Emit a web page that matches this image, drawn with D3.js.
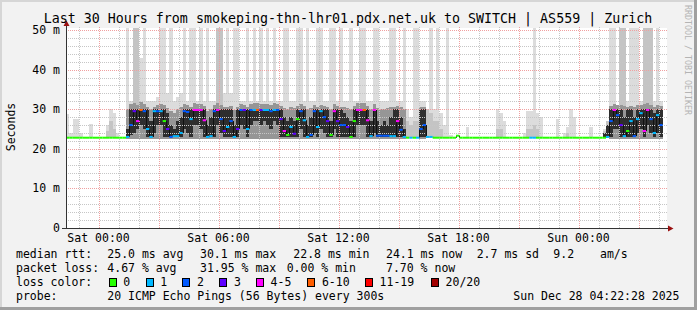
<!DOCTYPE html>
<html><head><meta charset="utf-8">
<script src="https://cdn.jsdelivr.net/npm/d3@7"></script>
<style>
html,body{margin:0;padding:0;background:#f2f2f2;}
svg{display:block;}
text{font-family:"DejaVu Sans Mono",monospace;}
</style></head><body>
<svg id="c" width="697" height="310"></svg>
<script>
// ---------------- DATA ----------------
const title = "Last 30 Hours from smokeping-thn-lhr01.pdx.net.uk to SWITCH | AS559 | Zurich";
const startTime = Date.UTC(2025, 11, 26, 22, 22, 28);
const endTime = Date.UTC(2025, 11, 28, 4, 22, 28);
const stepMinutes = 10;

const yTickValues = [0, 10, 20, 30, 40, 50];
const yTickLabels = ["0", "10 m", "20 m", "30 m", "40 m", "50 m"];
const xTickTimes = [Date.UTC(2025,11,27,0), Date.UTC(2025,11,27,6), Date.UTC(2025,11,27,12), Date.UTC(2025,11,27,18), Date.UTC(2025,11,28,0)];
const xTickLabels = ["Sat 00:00", "Sat 06:00", "Sat 12:00", "Sat 18:00", "Sun 00:00"];

// median rtt (ms) per 10-minute step
const median = [
22.8,22.8,22.8,22.8,22.8,22.8,22.8,22.8,22.8,22.8,
22.8,22.8,22.8,22.8,22.8,22.8,22.8,22.8,23,26,
29.5,27,29.8,29.5,25,23,29.5,29.5,29.5,27,
25,23,23.2,23.2,24,29.5,29.3,27.5,29.8,29.8,
29.8,27.2,23,23.2,29.5,29.8,27.5,24.5,25.5,27,
23,25,29.8,29.8,25,29.8,29.8,29.8,29.8,29.8,
29.8,29.5,29.8,29.8,27.5,24.5,23.5,25.5,23.8,27.5,
29.5,27.2,23,23.5,29.5,25.5,29.5,28,27,23.5,
29.5,27,26,26,25.5,23,27,29.8,29.8,29.8,
27.2,23.2,29.8,23.3,23.3,23.3,23.3,23.2,23.2,27,
24.8,23,22.8,22.8,22.8,22.8,25,26,23,23,
22.8,22.8,22.8,22.8,22.8,22.8,22.8,23.3,22.8,22.8,
22.8,22.8,22.8,22.8,22.8,22.8,22.8,22.8,22.8,22.8,
22.8,22.8,22.8,22.8,22.8,22.8,22.8,22.8,22.8,22.8,
22.8,22.8,22.8,22.8,22.8,22.8,22.8,22.8,22.8,22.8,
22.8,22.8,22.8,22.8,22.8,22.8,22.8,22.8,22.8,22.8,
22.8,22.8,23,27,29.8,28.5,26,23.2,24.5,27,
23.2,27.5,29,24.5,29.8,27.5,24,28.5,26,null];

// lost pings (of 20) per step
const loss = [
0,0,0,0,0,0,0,0,0,0,
0,0,0,0,0,0,0,0,1,2,
3,4,6,2,1,1,1,2,1,0,
3,2,1,1,1,2,2,1,4,4,
4,4,1,1,2,4,2,3,1,2,
1,3,2,3,1,2,1,7,3,1,
1,2,1,2,3,4,0,1,3,0,
2,1,1,2,2,1,1,2,3,0,
4,3,2,2,3,0,0,4,4,7,
4,1,5,2,2,2,2,1,1,4,
2,1,0,1,0,1,2,2,1,1,
0,0,0,0,0,0,0,0,0,0,
0,0,0,0,0,0,0,0,0,0,
0,0,0,0,0,0,0,0,0,1,
1,0,0,0,0,0,0,0,0,0,
0,0,0,0,0,0,0,0,0,0,
0,0,1,2,4,2,3,1,0,1,
2,1,1,4,4,2,1,1,2,0];

// highest ping (ms) per step: light smoke
const smokeMax = [
28.8,24,27.5,27.5,24,0,0,26.3,0,0,
0,0,26,30,29,24,0,0,60,32,
60,60,43,60,32,32,32,33,60,60,
34,60,32,33,34,60,32,60,60,32,
60,32,60,32,32,60,60,34,60,34,
60,60,32,32,60,32,60,32,60,32,
60,32,60,32,32,60,60,32,32,60,
60,32,60,32,32,60,60,32,32,60,
60,32,60,32,32,60,32,32,60,60,
32,32,60,60,32,32,32,60,60,32,
32,60,30,28,60,60,32,32,30,60,
30,60,29,26,60,23.5,0,0,0,0,
25.4,0,0,0,0,0,0,0,0,30,
29,27,0,0,0,0,0,24,29.5,29.5,
60,29,28,0,0,0,0,27.5,0,24,
25.5,30,28,0,0,0,0,25.5,0,0,
0,25,27,60,60,30,32,32,32,60,
60,60,32,32,32,32,32,60,32,0];

// outer-middle pings (ms): medium smoke
const smokeOuter = [
0,0,0,0,0,0,0,0,0,0,
0,0,24.5,27,25,0,0,0,0,0,
60,60,0,0,0,0,0,0,0,0,
0,0,0,0,0,0,0,0,0,0,
0,0,0,0,0,60,60,0,0,0,
0,0,0,0,0,0,0,0,0,0,
0,0,0,0,0,0,0,0,0,0,
0,0,0,0,0,0,0,0,0,0,
0,0,0,0,0,0,0,0,0,0,
0,0,0,0,0,0,0,0,0,0,
0,0,27,26,27,27,0,0,30,29,
27,27,25,0,0,0,0,0,0,0,
0,0,0,0,0,0,0,0,0,25,
25,0,0,0,0,0,0,0,25,25,
26,25,0,0,0,0,0,0,0,0,
24,0,0,0,0,0,0,0,0,0,
0,24.5,27,0,0,0,60,60,0,0,
0,0,0,60,60,60,0,0,0,0];

// inner pings upper bound (ms): gray smoke body
const smokeBody = [
0,0,0,0,0,0,0,0,0,0,
0,0,0,0,0,0,0,0,30,31.2,
31.5,31,31.8,31.2,30.5,30,30.6,31,31.4,31,
30.2,29.5,29,30,30.5,31.2,31,30.6,31.5,31.3,
31.4,30.8,29.5,30,31,31.6,31,30.5,30.5,30.8,
29.8,30.5,31.2,31,30.5,31.2,31.5,31.6,31.3,31.2,
31.4,31,31.5,31.3,30.8,30.4,30,30.5,30.2,30.8,
31.2,30.8,30,30.2,31,30.5,31,30.8,30.6,30,
31.2,30.8,30.5,30.5,30.3,30,30.8,31.5,31.5,31.6,
30.8,30,31.2,30.2,30,30,30.2,30.5,30.6,30.8,
30.5,30,0,0,0,0,30.5,30.5,0,0,
0,0,0,0,0,0,0,0,0,0,
0,0,0,0,0,0,0,0,0,0,
0,0,0,0,0,0,0,0,0,0,
0,0,0,0,0,0,0,0,0,0,
0,0,0,0,0,0,0,0,0,0,
0,0,0,30.8,31.4,31,31,30.8,30.6,30.8,
30.5,31,31,31.2,31.5,31,30.5,31,30.8,0];

// central pings low / high (ms): dark smoke core
const coreLow = [
0,0,0,0,0,0,0,0,0,0,
0,0,0,0,0,0,0,0,23,23.5,
24,25,26,25,23,23,24,26,26,23,
23,23,23,23,23,25,24,23,26,26,
25,23,23,23,23,26,24,23,23,23,
23,23,26,25,23,26,27,27,26,27,
26,25,27,26,23,23,23,23,23,23,
25,23,23,23,24,23,25,24,23,23,
25,23,23,23,23,23,23,26,26,26,
23,23,24,23,23,23,23,23,23,23,
23,23,0,0,0,0,23,23,0,0,
0,0,0,0,0,0,0,0,0,0,
0,0,0,0,0,0,0,0,0,0,
0,0,0,0,0,0,0,0,0,0,
0,0,0,0,0,0,0,0,0,0,
0,0,0,0,0,0,0,0,0,0,
0,23,23,23,25,25,23,23,23,23,
23,24,25,23,26,24,23,24,23,0];
const coreHigh = [
0,0,0,0,0,0,0,0,0,0,
0,0,0,0,0,0,0,0,25,30,
30,30,30,30,30,27,30,30,30,30,
29,26,25,27,28,30,30,30,30,30,
30,30,26,28,30,30,30,30,30,30,
26,30,30,30,30,30,30,30,30,30,
30,30,30,30,30,28,27,28,27,30,
30,30,26,28,30,30,30,30,30,27,
30,30,30,29,28,27,30,30,30,30,
30,27,30,27,26,27,26,28,30,30,
28,25,0,0,0,0,30,30,0,0,
0,0,0,0,0,0,0,0,0,0,
0,0,0,0,0,0,0,0,0,0,
0,0,0,0,0,0,0,0,0,0,
0,0,0,0,0,0,0,0,0,0,
0,0,0,0,0,0,0,0,0,0,
0,24,26,30,30,30,30,28,30,30,
28,30,30,30,30,30,29,30,30,0];

const lossLabels = ["0", "1", "2", "3", "4-5", "6-10", "11-19", "20/20"];
const lossUpper = [0, 1, 2, 3, 5, 10, 19, 20];
const lossColors = ["#26ff00", "#00b8ff", "#0059ff", "#5e00ff", "#ff00ff", "#ff5e00", "#ff0000", "#a10000"];

const rttStats = ["25.0 ms avg", "30.1 ms max", "22.8 ms min", "24.1 ms now", "2.7 ms sd", "9.2", "am/s"];
const lossStats = ["4.67 % avg", "31.95 % max", "0.00 % min", "7.70 % now"];
const probeText = "20 ICMP Echo Pings (56 Bytes) every 300s";
const stampText = "Sun Dec 28 04:22:28 2025";

// ---------------- DRAW ----------------
const W = 697, H = 310;
const svg = d3.select("#c");
const X0 = 66, X1 = 666, Y0 = 228, Y50 = 30, YTOP = 28;

svg.append("rect").attr("width", W).attr("height", H).attr("fill", "#f2f2f2");
svg.append("rect").attr("x", 0).attr("y", 0).attr("width", W).attr("height", 2).attr("fill", "#d6d6d6");
svg.append("rect").attr("x", 0).attr("y", 0).attr("width", 2).attr("height", H).attr("fill", "#d6d6d6");
svg.append("rect").attr("x", 0).attr("y", H - 3).attr("width", W).attr("height", 3).attr("fill", "#a0a0a0");
svg.append("rect").attr("x", W - 3).attr("y", 0).attr("width", 3).attr("height", H).attr("fill", "#a0a0a0");

const x = d3.scaleUtc().domain([startTime, endTime]).range([X0, X1]);
const y = d3.scaleLinear().domain([0, 50]).range([Y0, Y50]);

svg.append("defs").append("clipPath").attr("id", "clip")
  .append("rect").attr("x", X0).attr("y", YTOP).attr("width", X1 - X0 + 1).attr("height", Y0 - YTOP);

svg.append("rect").attr("x", X0).attr("y", YTOP).attr("width", X1 - X0 + 1).attr("height", Y0 - YTOP).attr("fill", "#ffffff");

const plot = svg.append("g").attr("clip-path", "url(#clip)");
const stepMs = stepMinutes * 60000;
const t = i => startTime + i * stepMs;
const idx = d3.range(median.length);

function band(lowArr, highArr, color) {
  plot.append("g").attr("shape-rendering", "crispEdges").selectAll("rect")
    .data(idx.filter(i => highArr[i] > 0))
    .join("rect")
    .attr("x", i => x(t(i)))
    .attr("width", i => x(t(i + 1)) - x(t(i)))
    .attr("y", i => y(highArr[i]))
    .attr("height", i => y(lowArr(i)) - y(highArr[i]))
    .attr("fill", color);
}
band(() => 22.8, smokeMax, "#dcdcdc");
band(() => 22.8, smokeOuter, "#c4c4c4");
band(() => 22.6, smokeBody, "#969696");
band(i => coreLow[i], coreHigh, "#2e2e2e");

// grid
const grid = svg.append("g").attr("shape-rendering", "crispEdges");
d3.range(2, 51, 2).filter(v => v % 10 !== 0).forEach(v => {
  grid.append("line").attr("x1", X0).attr("x2", X1 + 1).attr("y1", Math.round(y(v)) + 0.5).attr("y2", Math.round(y(v)) + 0.5)
    .attr("stroke", "#c6c6c6").attr("stroke-dasharray", "1,1");
});
const hours = d3.utcHour.range(new Date(startTime), new Date(endTime));
hours.forEach(h => {
  const major = h.getUTCHours() % 3 === 0;
  if (major) return;
  grid.append("line").attr("x1", Math.round(x(h)) + 0.5).attr("x2", Math.round(x(h)) + 0.5).attr("y1", YTOP - 1).attr("y2", Y0)
    .attr("stroke", "#c6c6c6").attr("stroke-dasharray", "1,1");
});
hours.filter(h => h.getUTCHours() % 3 === 0).forEach(h => {
  grid.append("line").attr("x1", Math.round(x(h)) + 0.5).attr("x2", Math.round(x(h)) + 0.5).attr("y1", YTOP - 1).attr("y2", Y0)
    .attr("stroke", "#f0a0a0").attr("stroke-dasharray", "1,1");
});
yTickValues.filter(v => v > 0).forEach(v => {
  grid.append("line").attr("x1", X0).attr("x2", X1 + 1).attr("y1", Math.round(y(v)) + 0.5).attr("y2", Math.round(y(v)) + 0.5)
    .attr("stroke", "#f0a0a0").attr("stroke-dasharray", "1,1");
});

// median: black step connectors then coloured segments by loss
const lossIndex = l => lossUpper.findIndex(u => l <= u);
const med = svg.append("g").attr("clip-path", "url(#clip)");
idx.forEach(i => {
  if (median[i] == null || i + 1 >= median.length || median[i + 1] == null) return;
  if (median[i] !== median[i + 1]) {
    const xx = Math.round(x(t(i + 1))) + 0.5;
    med.append("line").attr("x1", xx).attr("x2", xx).attr("y1", y(median[i])).attr("y2", y(median[i + 1]))
      .attr("stroke", "#111").attr("stroke-width", 1);
  }
});
idx.filter(i => median[i] != null).forEach(i => {
  med.append("line").attr("x1", x(t(i))).attr("x2", x(t(i + 1)))
    .attr("y1", y(median[i])).attr("y2", y(median[i]))
    .attr("stroke", lossColors[lossIndex(loss[i])]).attr("stroke-width", 2);
});

// axes
const ax = svg.append("g").attr("shape-rendering", "crispEdges");
ax.append("line").attr("x1", X0 + 0.5).attr("x2", X0 + 0.5).attr("y1", Y0 + 1).attr("y2", 24).attr("stroke", "#333");
ax.append("line").attr("x1", 62).attr("x2", X1 + 3).attr("y1", Y0 + 0.5).attr("y2", Y0 + 0.5).attr("stroke", "#333");
svg.append("path").attr("d", `M${X0 - 2.5},26 L${X0 + 3.5},26 L${X0 + 0.5},20.5 Z`).attr("fill", "#9a1010");
svg.append("path").attr("d", `M${X1 + 2},${Y0 - 2.5} L${X1 + 2},${Y0 + 3.5} L${X1 + 7.5},${Y0 + 0.5} Z`).attr("fill", "#9a1010");

// y labels
svg.append("g").selectAll("text").data(yTickValues).join("text")
  .attr("x", 60).attr("y", v => y(v) + 4).attr("text-anchor", "end")
  .attr("font-size", "11.5px").attr("fill", "#000")
  .text((v, i) => yTickLabels[i]);
// x labels
svg.append("g").selectAll("text").data(xTickTimes).join("text")
  .attr("x", d => x(d)).attr("y", 242).attr("text-anchor", "middle")
  .attr("font-size", "11.5px").attr("fill", "#000")
  .text((d, i) => xTickLabels[i]);

// title
svg.append("text").attr("x", 348).attr("y", 23).attr("text-anchor", "middle")
  .attr("font-size", "13.3px").attr("fill", "#000").text(title);
// y axis title
svg.append("text").attr("transform", "translate(15,127) rotate(-90)").attr("text-anchor", "middle")
  .attr("font-size", "11.5px").attr("fill", "#000").text("Seconds");
// watermark
svg.append("text").attr("transform", "translate(685,5) rotate(90)").attr("text-anchor", "start")
  .attr("font-size", "8.3px").attr("fill", "#b4b4b4").text("RRDTOOL / TOBI OETIKER");

// legend
const lg = svg.append("g").attr("font-size", "11.5px").attr("fill", "#000");
const L1 = 258, L2 = 272, L3 = 286, L4 = 300;
lg.append("text").attr("x", 16).attr("y", L1).text("median rtt:");
const rttX = [107.3, 200, 293.3, 386, 476.7, 553.3, 600];
rttStats.forEach((s, i) => lg.append("text").attr("x", rttX[i]).attr("y", L1).text(s));
lg.append("text").attr("x", 16).attr("y", L2).text("packet loss:");
const lossX = [107.3, 200, 286.7, 386];
lossStats.forEach((s, i) => lg.append("text").attr("x", lossX[i]).attr("y", L2).text(s));
lg.append("text").attr("x", 16).attr("y", L3).text("loss color:");
const boxX = [108.7, 145.7, 182.3, 219.3, 256, 307.3, 365, 431];
lossLabels.forEach((s, i) => {
  lg.append("rect").attr("x", Math.round(boxX[i]) + 0.5).attr("y", 278.5).attr("width", 7).attr("height", 8)
    .attr("fill", lossColors[i]).attr("stroke", "#000").attr("stroke-width", 1);
  lg.append("text").attr("x", boxX[i] + 14.6).attr("y", L3).text(s);
});
lg.append("text").attr("x", 16).attr("y", L4).text("probe:");
lg.append("text").attr("x", 107.3).attr("y", L4).text(probeText);
lg.append("text").attr("x", 513.3).attr("y", L4).text(stampText);
</script>
</body></html>
